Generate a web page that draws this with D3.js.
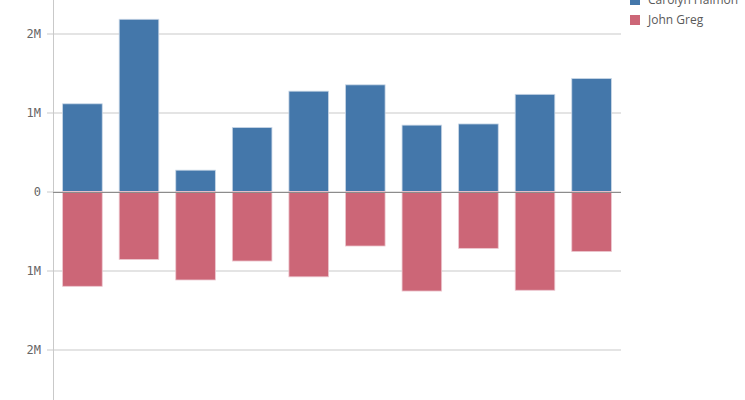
<!DOCTYPE html>
<html>
<head>
<meta charset="utf-8">
<script src="https://cdn.jsdelivr.net/npm/d3@7"></script>
<style>
  body { margin: 0; background: #fff; }
  svg { display: block; font-family: "Open Sans", "DejaVu Sans", sans-serif; }
</style>
</head>
<body>
<div id="chart"></div>
<script>
// categories are not labelled in the picture
const categories = ["C1", "C2", "C3", "C4", "C5", "C6", "C7", "C8", "C9", "C10"];
const carolyn = [1.11, 2.18, 0.27, 0.81, 1.27, 1.35, 0.84, 0.855, 1.23, 1.43].map(v => v * 1e6);
const john = [-1.2, -0.86, -1.12, -0.88, -1.08, -0.69, -1.26, -0.72, -1.25, -0.76].map(v => v * 1e6);
const seriesNames = ["Carolyn Halmon", "John Greg"];
const colors = ["#4477aa", "#cc6677"];
const yTicks = [-2e6, -1e6, 0, 1e6, 2e6];

const W = 745, H = 400;
const left = 53, right = 621;

const svg = d3.select("#chart").append("svg")
  .attr("width", W).attr("height", H);

const x = d3.scaleBand().domain(categories).range([left, right]).paddingInner(0.3).paddingOuter(0.17);
const y = d3.scaleLinear().domain([-2e6, 2e6]).range([349.5, 33.5]);

const fmt = v => v === 0 ? "0" : Math.abs(v / 1e6) + "M";

// grid
svg.append("g")
  .attr("transform", `translate(${left},0)`)
  .call(d3.axisLeft(y).tickValues(yTicks).tickSize(-(right - left)).tickFormat(""))
  .call(g => g.select(".domain").remove())
  .call(g => g.selectAll("line").attr("stroke", "#c9c9c9"));

// y axis labels + ticks
const yAxis = svg.append("g")
  .attr("transform", `translate(${left},0)`)
  .call(d3.axisLeft(y).tickValues(yTicks).tickSize(6).tickPadding(6).tickFormat(fmt));
yAxis.select(".domain").remove();
yAxis.selectAll("line").attr("stroke", "#c9c9c9");
yAxis.selectAll("text").attr("fill", "#666")
  .style("font-family", "'DejaVu Sans Mono', monospace").style("font-size", "12px");

svg.append("line")
  .attr("x1", left + 0.5).attr("x2", left + 0.5)
  .attr("y1", 0).attr("y2", H)
  .attr("stroke", "#c9c9c9");

const rows = categories.map((c, i) => ({ cat: c, pos: carolyn[i], neg: john[i] }));

svg.append("g").selectAll("rect")
  .data(rows).join("rect")
  .attr("x", d => x(d.cat))
  .attr("y", d => y(d.pos))
  .attr("width", x.bandwidth())
  .attr("height", d => y(0) - y(d.pos))
  .attr("fill", colors[0])
  .attr("stroke", "#c8d6e6").attr("stroke-width", 0.8);

svg.append("g").selectAll("rect")
  .data(rows).join("rect")
  .attr("x", d => x(d.cat))
  .attr("y", y(0))
  .attr("width", x.bandwidth())
  .attr("height", d => y(d.neg) - y(0))
  .attr("fill", colors[1])
  .attr("stroke", "#ecc7cf").attr("stroke-width", 0.8);

// zero line
svg.append("line")
  .attr("x1", left).attr("x2", right)
  .attr("y1", Math.round(y(0)) + 0.5).attr("y2", Math.round(y(0)) + 0.5)
  .attr("stroke", "#8c8c8c");

// legend (top entry is cut by the top edge, as in the reference)
const legend = svg.append("g").attr("transform", "translate(630,-2)");
seriesNames.forEach((name, i) => {
  const g = legend.append("g").attr("transform", `translate(0,${i * 20})`);
  g.append("rect").attr("width", 10).attr("height", 10).attr("y", -3).attr("fill", colors[i]);
  g.append("text").attr("x", 18).attr("y", 6).attr("fill", "#595959")
    .style("font-size", "12px").text(name);
});
</script>
</body>
</html>
